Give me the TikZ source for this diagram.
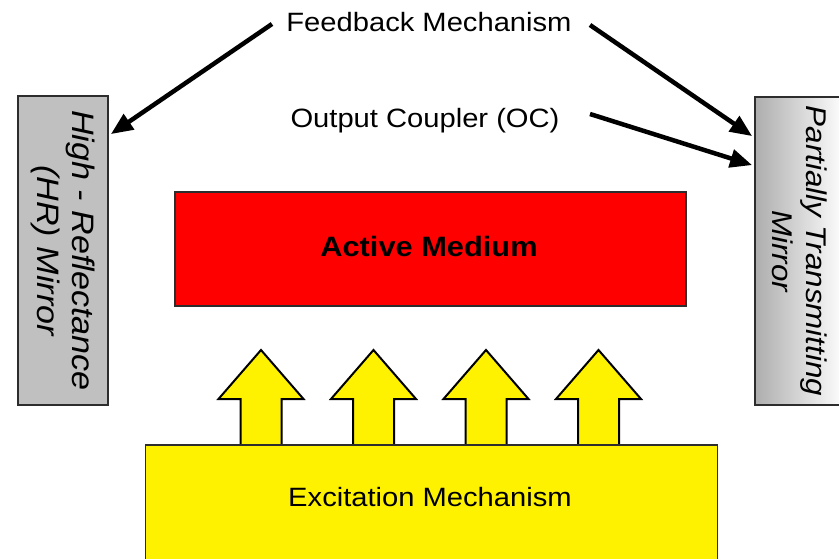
\documentclass[tikz,border=0pt]{standalone}
\usepackage{fontspec}
\setmainfont{Liberation Sans}[FakeStretch=1.1]
\usetikzlibrary{arrows.meta,calc}
\definecolor{edge}{RGB}{45,45,45}
\definecolor{mirrorgray}{RGB}{192,192,192}
\begin{document}
\begin{tikzpicture}[x=1pt,y=-1pt,
  box/.style={draw=edge,line width=1.8pt,inner sep=0pt},
  lbl/.style={inner sep=0pt,anchor=base,font=\fontsize{26.5}{32}\selectfont},
  mirrortext/.style={inner sep=0pt,rotate=-90,align=center,font=\fontsize{30}{35}\selectfont\itshape},
  conn/.style={line width=4.5pt,-{Triangle[length=22pt,width=18pt]}},
  pump/.style={draw=black,line width=2pt,fill=yellow,line join=miter}]
\useasboundingbox (0,0) rectangle (839,559);

% pump arrows from the excitation source into the medium
\foreach \c in {261,373.5,486,598.5}
  \draw[pump] ({\c-20.5},444) -- ({\c-20.5},399) -- ({\c-42.5},399) -- (\c,350)
    -- ({\c+42.5},399) -- ({\c+20.5},399) -- ({\c+20.5},444);

\begin{scope}
  \clip (0,0) rectangle (839,559);
  \node[box,fill=mirrorgray,minimum width=90pt,minimum height=309pt] (hr) at (63,250.5) {};
  \node[box,left color=black!32,right color=white,minimum width=90pt,minimum height=308pt] (pt) at (800,251) {};
  \node[box,fill=yellow,minimum width=572pt,minimum height=160pt,anchor=north west] (ex) at (144.5,444) {};
\end{scope}

% gain medium
\node[box,fill=red,minimum width=511pt,minimum height=114pt] (am) at (430.5,249) {};
\node[lbl,font=\fontsize{28}{32}\selectfont\bfseries] (aml) at (429,256) {Active Medium};

% mirror captions
\node[mirrortext,font=\fontsize{31}{35}\selectfont\itshape] (hrl) at (hr.center) {High - Reflectance\\(HR) Mirror};
\node[mirrortext,font=\fontsize{28.5}{34}\selectfont\itshape] (ptl) at (pt.center) {Partially Transmitting\\Mirror};

% labels
\node[lbl] (fb) at (429,31.5) {Feedback Mechanism};
\node[lbl] (oc) at (425,127.5) {Output Coupler (OC)};
\node[lbl] (exl) at (430,506.5) {Excitation Mechanism};

% pointers to the mirrors
\coordinate (fbL) at (272,24);
\coordinate (fbR) at (590,25);
\coordinate (ocR) at (590,114);
\draw[conn] (fbL) -- ($(hr.north east)+(2,39)$);
\draw[conn] (fbR) -- ($(pt.north west)+(-2,40)$);
\draw[conn] (ocR) -- ($(pt.north west)+(-2,69)$);
\end{tikzpicture}
\end{document}
